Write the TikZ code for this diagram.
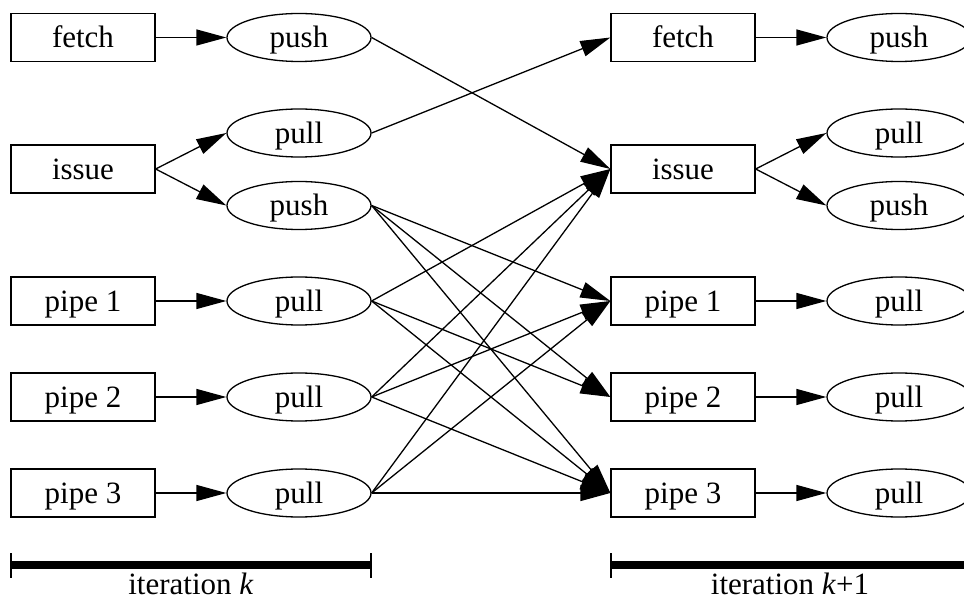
\documentclass[tikz,border=0pt]{standalone}
\usepackage{fontspec}
\setmainfont{Liberation Serif}
\usetikzlibrary{arrows.meta,shapes.geometric}

\tikzset{
  unit/.style={draw, rectangle, line width=1.3pt, minimum width=144pt, minimum height=48pt,
    inner sep=0pt, text height=24pt, text depth=3pt, font=\fontsize{31}{36}\selectfont},
  port/.style={draw, ellipse, line width=1.3pt, minimum width=144pt, minimum height=48pt,
    inner sep=0pt, text height=24pt, text depth=3pt, font=\fontsize{31}{36}\selectfont},
  dep/.style={line width=1.3pt, -{Triangle[length=30pt,width=16pt]}},
  span/.style={line width=8pt},
  tick/.style={line width=1.3pt},
  caption/.style={anchor=base, inner sep=0pt, font=\fontsize{31}{36}\selectfont}
}

\begin{document}
\begin{tikzpicture}[x=1pt,y=-1pt]
\useasboundingbox (0,0) rectangle (964,601);
\clip (0,0) rectangle (964,601);

% iteration k
\node[unit] (fa) at (83,37.5) {fetch};
\node[unit] (ia) at (83,169) {issue};
\node[unit] (p1a) at (83,301) {pipe 1};
\node[unit] (p2a) at (83,397) {pipe 2};
\node[unit] (p3a) at (83,493) {pipe 3};

\node[port] (fpusha) at (299,37.5) {push};
\node[port] (ipulla) at (299,133) {pull};
\node[port] (ipusha) at (299,205.5) {push};
\node[port] (q1a) at (299,301) {pull};
\node[port] (q2a) at (299,397) {pull};
\node[port] (q3a) at (299,493) {pull};

% iteration k+1
\node[unit] (fb) at (683,37.5) {fetch};
\node[unit] (ib) at (683,169) {issue};
\node[unit] (p1b) at (683,301) {pipe 1};
\node[unit] (p2b) at (683,397) {pipe 2};
\node[unit] (p3b) at (683,493) {pipe 3};

\node[port] (fpushb) at (899,37.5) {push};
\node[port] (ipullb) at (899,133) {pull};
\node[port] (ipushb) at (899,205.5) {push};
\node[port] (q1b) at (899,301) {pull};
\node[port] (q2b) at (899,397) {pull};
\node[port] (q3b) at (899,493) {pull};

% units to their ports
\draw[dep] (fa.east) -- (fpusha.west);
\draw[dep] (ia.east) -- (ipulla.west);
\draw[dep] (ia.east) -- (ipusha.west);
\draw[dep] (p1a.east) -- (q1a.west);
\draw[dep] (p2a.east) -- (q2a.west);
\draw[dep] (p3a.east) -- (q3a.west);

\draw[dep] (fb.east) -- (fpushb.west);
\draw[dep] (ib.east) -- (ipullb.west);
\draw[dep] (ib.east) -- (ipushb.west);
\draw[dep] (p1b.east) -- (q1b.west);
\draw[dep] (p2b.east) -- (q2b.west);
\draw[dep] (p3b.east) -- (q3b.west);

% cross-iteration dependencies
\draw[dep] (fpusha.east) -- (ib.west);
\draw[dep] (ipulla.east) -- (fb.west);
\draw[dep] (ipusha.east) -- (p1b.west);
\draw[dep] (ipusha.east) -- (p2b.west);
\draw[dep] (ipusha.east) -- (p3b.west);
\draw[dep] (q1a.east) -- (ib.west);
\draw[dep] (q1a.east) -- (p2b.west);
\draw[dep] (q1a.east) -- (p3b.west);
\draw[dep] (q2a.east) -- (ib.west);
\draw[dep] (q2a.east) -- (p1b.west);
\draw[dep] (q2a.east) -- (p3b.west);
\draw[dep] (q3a.east) -- (ib.west);
\draw[dep] (q3a.east) -- (p1b.west);
\draw[dep] (q3a.east) -- (p3b.west);

% iteration spans
\coordinate (sa1) at (11,565);
\coordinate (sa2) at (371,565);
\draw[span] (sa1) -- (sa2);
\draw[tick] (11,553) -- (11,578);
\draw[tick] (371,553) -- (371,578);
\node[caption] (la) at (191,594) {iteration \textit{k}};

\coordinate (sb1) at (611,565);
\coordinate (sb2) at (971,565);
\draw[span] (sb1) -- (sb2);
\draw[tick] (611,553) -- (611,578);
\node[caption] (lb) at (790,594) {iteration \textit{k}+1};
\end{tikzpicture}
\end{document}
